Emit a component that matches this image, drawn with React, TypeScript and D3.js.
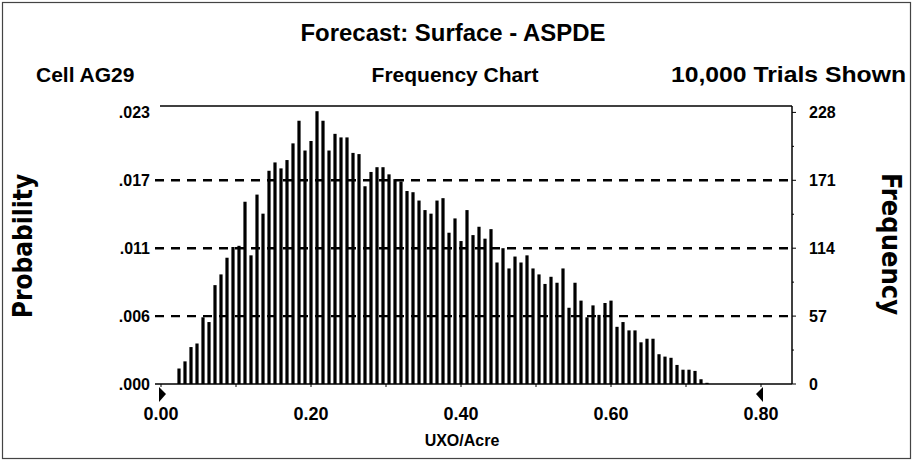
import React, { useEffect, useRef } from "react";
import * as d3 from "d3";

// histogram cells (UXO/Acre), counts
const binStart = 0.02;
const binWidth = 0.008;
const frequencies = [
  13, 19, 31, 34, 56, 52, 83, 92, 106, 115, 116, 153, 108, 159,
  143, 179, 186, 181, 188, 202, 221, 196, 204, 229, 221, 196, 210, 207, 207,
  194, 193, 166, 178, 182, 182, 176, 172, 170, 162, 161, 154, 146, 143,
  154, 156, 127, 139, 120, 146, 125, 132, 122, 130, 102, 114, 97, 107, 102,
  108, 97, 92, 84, 90, 85, 97, 64, 85, 70, 56, 66,
  58, 68, 70, 48, 52, 45, 45, 35, 38, 38, 25, 23, 22, 16, 12, 12, 11, 4, 1,
];

const freqTicks = [0, 57, 114, 171, 228];
const probLabels = [".000", ".006", ".011", ".017", ".023"];
const xTicks = [0, 0.2, 0.4, 0.6, 0.8];
const xMinorTicks = [0.1, 0.3, 0.5, 0.7];

const title = "Forecast: Surface - ASPDE";
const cellLabel = "Cell AG29";
const chartLabel = "Frequency Chart";
const trialsLabel = "10,000 Trials Shown";

const W = 913;
const H = 468;
const FONT = "'Liberation Sans', Arial, sans-serif";
const NARROW = "'Liberation Sans Narrow', 'DejaVu Sans Condensed', 'Liberation Sans', sans-serif";

const FrequencyChart: React.FC = () => {
  const svgRef = useRef<SVGSVGElement>(null);

  useEffect(() => {
    if (!svgRef.current) return;
    const svg = d3.select(svgRef.current);
    svg.selectAll("*").remove();

    const plotLeft = 155;
    const plotRight = 792;
    const plotTop = 106;

    const x = d3.scaleLinear().domain([0, 0.8]).range([161, 761]);
    const y = d3.scaleLinear().domain([0, 228]).range([384, 112.4]);

    // outer frame
    svg
      .append("rect")
      .attr("x", 2.5)
      .attr("y", 2.5)
      .attr("width", W - 5)
      .attr("height", H - 12)
      .attr("fill", "none")
      .attr("stroke", "#444")
      .attr("stroke-width", 1.2);

    // header texts
    svg
      .append("text")
      .text(title)
      .attr("x", 453)
      .attr("y", 41)
      .attr("text-anchor", "middle")
      .attr("textLength", 305)
      .attr("lengthAdjust", "spacingAndGlyphs")
      .style("font-family", FONT)
      .style("font-weight", "bold")
      .style("font-size", "23px");

    const row = svg
      .append("g")
      .style("font-family", FONT)
      .style("font-weight", "bold")
      .style("font-size", "21px");
    row.append("text").text(cellLabel).attr("x", 36).attr("y", 82);
    row
      .append("text")
      .text(chartLabel)
      .attr("x", 455)
      .attr("y", 82)
      .attr("text-anchor", "middle");
    row
      .append("text")
      .text(trialsLabel)
      .attr("x", 906)
      .attr("y", 82)
      .attr("text-anchor", "end")
      .attr("textLength", 235)
      .attr("lengthAdjust", "spacingAndGlyphs")
      .style("font-size", "22px");

    // dashed gridlines at the inner ticks
    svg
      .append("g")
      .selectAll("line")
      .data(freqTicks.slice(1, 4))
      .enter()
      .append("line")
      .attr("x1", plotLeft)
      .attr("x2", plotRight)
      .attr("y1", (d) => y(d))
      .attr("y2", (d) => y(d))
      .attr("stroke", "#000")
      .attr("stroke-width", 2.4)
      .attr("stroke-dasharray", "9,7");

    // bars
    svg
      .append("g")
      .selectAll("rect")
      .data(frequencies)
      .enter()
      .append("rect")
      .attr("x", (d, i) => x(binStart + binWidth * (i + 0.5)) - 1.6)
      .attr("width", 3.2)
      .attr("y", (d) => y(d))
      .attr("height", (d) => y(0) - y(d))
      .attr("fill", "#000");

    // plot frame: top, right and baseline
    svg
      .append("line")
      .attr("x1", 160)
      .attr("x2", plotRight)
      .attr("y1", plotTop)
      .attr("y2", plotTop)
      .attr("stroke", "#000")
      .attr("stroke-width", 1.5);
    svg
      .append("line")
      .attr("x1", plotRight)
      .attr("x2", plotRight)
      .attr("y1", plotTop)
      .attr("y2", y(0))
      .attr("stroke", "#000")
      .attr("stroke-width", 1.5);
    svg
      .append("line")
      .attr("x1", plotLeft)
      .attr("x2", plotRight)
      .attr("y1", y(0))
      .attr("y2", y(0))
      .attr("stroke", "#000")
      .attr("stroke-width", 1.5);

    // right axis ticks (major + half steps)
    const rightTicks = d3.range(0, 229, 28.5);
    svg
      .append("g")
      .selectAll("line")
      .data(rightTicks)
      .enter()
      .append("line")
      .attr("x1", plotRight)
      .attr("x2", (d) => plotRight + (d % 57 === 0 ? 4 : 2))
      .attr("y1", (d) => y(d))
      .attr("y2", (d) => y(d))
      .attr("stroke", "#000")
      .attr("stroke-width", 1);

    // x ticks under the baseline
    svg
      .append("g")
      .selectAll("line")
      .data(xTicks.concat(xMinorTicks))
      .enter()
      .append("line")
      .attr("x1", (d) => x(d))
      .attr("x2", (d) => x(d))
      .attr("y1", y(0))
      .attr("y2", y(0) + 3)
      .attr("stroke", "#000")
      .attr("stroke-width", 1);

    // left probability labels
    svg
      .append("g")
      .selectAll("text")
      .data(freqTicks)
      .enter()
      .append("text")
      .text((d, i) => probLabels[i])
      .attr("x", 150)
      .attr("y", (d) => y(d) + 5.5)
      .attr("text-anchor", "end")
      .style("font-family", FONT)
      .style("font-weight", "bold")
      .style("font-size", "16px");

    // right frequency labels
    svg
      .append("g")
      .selectAll("text")
      .data(freqTicks)
      .enter()
      .append("text")
      .text((d) => String(d))
      .attr("x", 809)
      .attr("y", (d) => y(d) + 5.5)
      .style("font-family", FONT)
      .style("font-weight", "bold")
      .style("font-size", "16px");

    // x labels
    svg
      .append("g")
      .selectAll("text")
      .data(xTicks)
      .enter()
      .append("text")
      .text((d) => d3.format(".2f")(d))
      .attr("x", (d) => x(d))
      .attr("y", 420)
      .attr("text-anchor", "middle")
      .style("font-family", FONT)
      .style("font-weight", "bold")
      .style("font-size", "18px");

    svg
      .append("text")
      .text("UXO/Acre")
      .attr("x", 462)
      .attr("y", 446)
      .attr("text-anchor", "middle")
      .style("font-family", FONT)
      .style("font-weight", "bold")
      .style("font-size", "16px");

    // certainty grabbers
    const x0 = x(0);
    const x1 = x(0.8);
    svg
      .append("path")
      .attr("d", `M${x0 - 2},387 L${x0 + 5},394 L${x0 - 2},402 Z`)
      .attr("fill", "#000");
    svg
      .append("path")
      .attr("d", `M${x1 + 2},387 L${x1 - 5},394 L${x1 + 2},402 Z`)
      .attr("fill", "#000");

    // side axis titles
    svg
      .append("text")
      .text("Probability")
      .attr("transform", "translate(32, 246) rotate(-90)")
      .attr("text-anchor", "middle")
      .style("font-family", NARROW)
      .style("font-weight", "bold")
      .style("font-size", "26px");
    svg
      .append("text")
      .text("Frequency")
      .attr("transform", "translate(882, 244) rotate(90)")
      .attr("text-anchor", "middle")
      .style("font-family", NARROW)
      .style("font-weight", "bold")
      .style("font-size", "27px");
  }, []);

  return (
    <svg
      ref={svgRef}
      width={W}
      height={H}
      viewBox={`0 0 ${W} ${H}`}
      style={{ position: "absolute", left: 0, top: 0, background: "#fff" }}
    />
  );
};

export default function App() {
  return <FrequencyChart />;
}
